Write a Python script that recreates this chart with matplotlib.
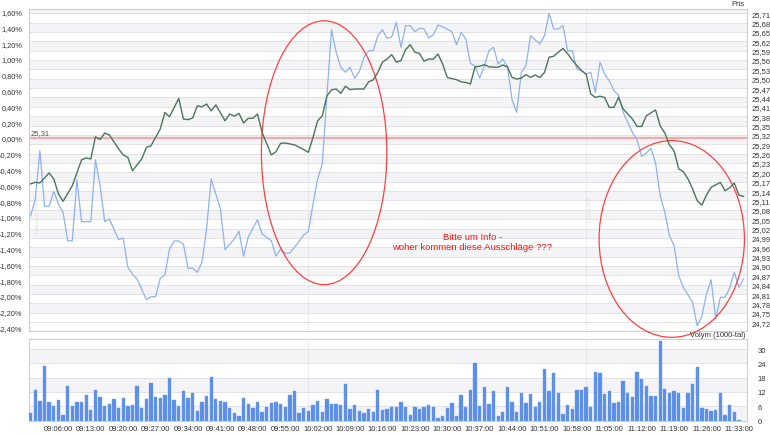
import matplotlib
matplotlib.use('Agg')
import matplotlib.pyplot as plt
from matplotlib.patches import Ellipse
from matplotlib.ticker import FuncFormatter, FixedLocator
import numpy as np

plt.rcParams['font.family'] = ['Liberation Sans Narrow', 'Liberation Sans', 'DejaVu Sans']
plt.rcParams['font.size'] = 5.5

ref_price = 25.31

# kurs (Pris), minutes after 09:00
price_min = [0, 1, 2, 4, 5, 6, 7, 9, 11, 12, 13, 14, 15, 16, 17, 19, 20, 21, 22, 24,
             25, 26, 27, 28, 29, 30, 32, 33, 34, 35, 36, 37, 38, 39, 40, 42, 43, 44, 45, 46,
             47, 48, 49, 50, 52, 53, 54, 55, 57, 59, 60, 61, 62, 63, 64, 65, 66, 67, 68, 69,
             70, 72, 73, 74, 75, 76, 77, 78, 79, 80, 81, 82, 83, 84, 85, 86, 87, 88, 89, 90,
             92, 93, 94, 95, 96, 97, 98, 99, 100, 101, 102, 103, 104, 105, 106, 107, 108, 109, 110, 111,
             112, 113, 114, 115, 116, 117, 118, 119, 120, 121, 122, 123, 124, 125, 126, 127, 128, 130, 131, 132,
             133, 135, 136, 137, 138, 139, 140, 141, 142, 143, 144, 145, 146, 147, 149, 150, 151, 152, 153, 154]
price = [25.163, 25.168, 25.166, 25.198, 25.179, 25.131, 25.107, 25.157, 25.240, 25.246, 25.243, 25.314, 25.305, 25.326, 25.320, 25.275, 25.256, 25.248, 25.205, 25.243,
         25.280, 25.285, 25.312, 25.339, 25.392, 25.378, 25.437, 25.371, 25.369, 25.374, 25.413, 25.410, 25.419, 25.397, 25.416, 25.365, 25.387, 25.380, 25.389, 25.358,
         25.373, 25.373, 25.387, 25.328, 25.256, 25.266, 25.293, 25.294, 25.288, 25.273, 25.264, 25.312, 25.365, 25.381, 25.445, 25.464, 25.467, 25.453, 25.476, 25.465,
         25.467, 25.467, 25.490, 25.496, 25.520, 25.553, 25.563, 25.577, 25.553, 25.558, 25.593, 25.609, 25.585, 25.581, 25.556, 25.563, 25.563, 25.579, 25.547, 25.504,
         25.497, 25.490, 25.488, 25.483, 25.538, 25.540, 25.545, 25.538, 25.537, 25.537, 25.544, 25.538, 25.504, 25.499, 25.502, 25.513, 25.504, 25.512, 25.504, 25.520,
         25.569, 25.572, 25.585, 25.597, 25.580, 25.560, 25.542, 25.526, 25.515, 25.451, 25.440, 25.444, 25.440, 25.408, 25.408, 25.440, 25.403, 25.371, 25.347, 25.347,
         25.381, 25.400, 25.349, 25.326, 25.288, 25.269, 25.211, 25.202, 25.179, 25.147, 25.109, 25.095, 25.127, 25.152, 25.168, 25.141, 25.150, 25.166, 25.127, 25.123]

# jamforelse (%), minutes after 09:00
index_min = [0, 1, 2, 3, 4, 5, 6, 7, 8, 9, 10, 11, 13, 14, 15, 16, 17, 19, 20, 21,
             22, 23, 25, 26, 27, 28, 29, 30, 31, 32, 33, 34, 35, 36, 37, 38, 39, 41, 42, 44,
             45, 46, 47, 49, 50, 52, 53, 54, 55, 56, 57, 59, 60, 61, 62, 63, 64, 65, 66, 67,
             68, 69, 70, 71, 72, 73, 74, 75, 76, 77, 78, 79, 80, 81, 82, 83, 84, 85, 86, 87,
             88, 89, 91, 92, 93, 94, 95, 96, 97, 98, 99, 100, 101, 102, 103, 104, 105, 106, 107, 108,
             109, 110, 111, 112, 113, 114, 115, 116, 117, 118, 119, 120, 121, 122, 123, 124, 125, 126, 127, 128,
             130, 131, 132, 133, 134, 135, 136, 137, 138, 139, 140, 141, 143, 144, 145, 146, 147, 148, 149, 150,
             151, 152, 153, 154]
index_pct = [-0.984, -0.772, -0.161, -0.865, -0.865, -0.675, -0.835, -0.941, -1.300, -1.300, -0.528, -1.059, -1.059, -0.278, -0.604, -1.059, -1.025, -1.287, -1.266, -1.637,
             -1.722, -1.785, -2.047, -2.009, -2.009, -1.776, -1.734, -1.405, -1.304, -1.304, -1.342, -1.649, -1.649, -1.700, -1.573, -1.152, -0.519, -0.899, -1.414, -1.278,
             -1.181, -1.497, -1.257, -1.034, -1.215, -1.300, -1.497, -1.405, -1.459, -1.456, -1.384, -1.228, -1.181, -0.835, -0.519, -0.329, 0.535, 1.371, 1.085, 0.895,
             0.832, 0.895, 0.756, 0.839, 1.022, 1.105, 1.105, 1.295, 1.371, 1.262, 1.280, 1.465, 1.148, 1.422, 1.422, 1.346, 1.389, 1.380, 1.266, 1.308,
             1.430, 1.409, 1.346, 1.181, 1.338, 1.253, 0.946, 0.908, 0.759, 0.908, 1.105, 1.148, 0.937, 1.000, 0.903, 0.481, 0.325, 0.832, 0.915, 1.295,
             1.241, 1.190, 1.295, 1.578, 1.380, 1.380, 1.422, 1.105, 1.105, 0.873, 0.852, 0.810, 0.832, 0.578, 0.958, 0.810, 0.725, 0.599, 0.544, 0.325,
             0.072, -0.025, -0.232, -0.190, -0.130, -0.316, -0.730, -0.941, -1.237, -1.363, -1.743, -1.890, -2.080, -2.376, -2.257, -1.975, -1.794, -2.291, -2.016, -2.016,
             -1.903, -1.700, -1.890, -1.785]

# Volym (1000-tal), one bar per minute from 09:00
volume = [3.3, 12.7, 8.1, 22.9, 7.8, 6.2, 8.5, 2.4, 14.4, 5.9,
          7.6, 7.9, 10.7, 4.5, 12.7, 10.0, 5.9, 6.9, 8.9, 5.1,
          9.6, 6.2, 6.6, 14.3, 5.4, 9.2, 15.7, 9.8, 9.6, 10.7,
          18.0, 8.8, 6.2, 12.3, 9.6, 11.5, 4.2, 7.8, 10.2, 18.1,
          9.2, 8.1, 7.9, 5.4, 3.1, 2.1, 9.3, 6.9, 5.1, 7.6,
          3.4, 5.5, 7.4, 7.9, 6.9, 5.8, 10.7, 12.3, 3.3, 5.2,
          3.8, 6.4, 8.1, 3.7, 8.9, 7.1, 7.1, 6.6, 15.3, 4.8,
          6.5, 4.2, 3.3, 5.0, 3.4, 13.0,
          4.4, 4.8, 5.8, 5.8, 7.8, 5.8, 2.4, 5.8, 5.0, 5.7,
          6.5, 5.8, 1.0, 1.8, 5.2, 7.2, 1.8, 10.7, 5.7, 12.6,
          24.2, 6.1, 14.0, 7.1, 12.2, 2.0, 3.5, 14.1, 7.9, 3.4,
          11.7, 7.2, 11.3, 5.8, 7.9, 21.8, 12.4, 19.8, 11.6, 2.7,
          6.5, 4.8, 13.0, 12.9, 14.1, 5.8, 20.4, 19.9, 11.0, 12.2,
          7.2, 7.8, 16.7, 11.7, 9.9, 20.2, 17.5, 14.4, 10.2, 10.2,
          33.2, 13.3, 11.6, 12.2, 11.7, 5.4, 11.7, 15.3, 22.6, 5.2,
          5.0, 3.8, 4.4, 11.7, 2.4, 6.5, 3.5, 0.3]

time_ticks = list(range(6, 154, 7))
pct_ticks = [-2.4, -2.2, -2.0, -1.8, -1.6, -1.4, -1.2, -1.0, -0.8, -0.6, -0.4, -0.2,
             0.0, 0.2, 0.4, 0.6, 0.8, 1.0, 1.2, 1.4, 1.6]
price_ticks = [round(24.72 + 0.03 * i, 2) for i in range(34)]
vol_ticks = [0, 6, 12, 18, 24, 30]

pct_lim = (-2.443, 1.633)
xlim = (-0.25, 154.65)

def pct2price(p):
    return ref_price * (1 + p / 100.0)

def price2pct(v):
    return (v / ref_price - 1) * 100.0

def fmt_time(m, pos=None):
    m = int(round(m))
    return '%02d:%02d:00' % (9 + m // 60, m % 60)

band = '#f4f4f6'
gridc = '#e3e3e6'
framec = '#cfcfd4'
txtc = '#333333'

fig = plt.figure(figsize=(7.7, 4.35), dpi=100)
ax = fig.add_axes([0.0383, 0.2368, 0.9312, 0.7402])
axv = fig.add_axes([0.0383, 0.031, 0.9312, 0.1874], sharex=ax)

# main chart
ax.set_xlim(*xlim)
ax.set_ylim(*pct_lim)
edges = [price2pct(t) for t in price_ticks] + [pct_lim[1]]
for i in range(len(edges) - 1):
    if i % 2 == 1:
        ax.axhspan(edges[i], edges[i + 1], color=band, lw=0, zorder=0)
for t in price_ticks:
    ax.axhline(price2pct(t), color=gridc, lw=0.7, zorder=0.5)
ax.axhline(0, color='#f3aaaa', lw=1.6, zorder=1)
for m in (60, 120):
    ax.axvline(m, color='#d6d6da', lw=0.6, ls=(0, (1, 1)), zorder=0.6)
    axv.axvline(m, color='#d6d6da', lw=0.6, ls=(0, (1, 1)), zorder=0.6)

ax.plot(index_min, index_pct, color='#8db2f2', lw=0.9, zorder=3)
ax.text(0.002, 0.03, '25,31', transform=ax.get_yaxis_transform(), fontsize=5.5,
        color='#555555', va='bottom', ha='left', zorder=4)

ax.yaxis.set_major_locator(FixedLocator(pct_ticks))
ax.yaxis.set_major_formatter(FuncFormatter(
    lambda v, p: ('%.2f%%' % v).replace('.', ',').replace('-0,00', '0,00')))
ax.tick_params(axis='y', length=0, pad=5, labelcolor=txtc, labelsize=5.3)
ax.tick_params(axis='x', length=0, labelbottom=False)
for s in ax.spines.values():
    s.set_color(framec)
    s.set_linewidth(0.8)

ax2 = ax.twinx()
ax2.set_ylim(pct2price(pct_lim[0]), pct2price(pct_lim[1]))
ax2.plot(price_min, price, color='#4a7659', lw=1.0, zorder=3)
ax2.yaxis.set_major_locator(FixedLocator(price_ticks))
ax2.yaxis.set_major_formatter(FuncFormatter(lambda v, p: ('%.2f' % v).replace('.', ',')))
ax2.tick_params(axis='y', length=0, pad=4, labelcolor=txtc)
for s in ax2.spines.values():
    s.set_visible(False)

# red marks
for cx, cy, w, h in [(63.4, -0.186, 27.1, 3.34), (138.5, -1.278, 31.4, 2.49)]:
    e = Ellipse((cx, cy), w, h, fill=False, edgecolor='#ff4040', lw=0.9,
                zorder=5, clip_on=False)
    ax.add_patch(e)
ax.text(95.4, -1.31, 'Bitte um Info -\nwoher kommen diese Ausschläge ???',
        color='#ff1010', fontsize=6.8, ha='center', va='center', linespacing=1.25,
        family=['Liberation Sans', 'DejaVu Sans'], zorder=6)

# faint watermarks
ax.text(0.9, -0.95, 'Danske Bank', rotation=90, fontsize=4.5, color='#e0e0e0',
        ha='left', va='center', zorder=2)
ax.text(60.4, -1.0, '10 AM', rotation=90, fontsize=4.5, color='#e0e0e0',
        ha='left', va='center', zorder=2)
ax.text(120.4, -0.9, '11:00 AM', rotation=90, fontsize=4.5, color='#e0e0e0',
        ha='left', va='center', zorder=2)

fig.text(745 / 770, 1 - 5 / 435, 'Pris', fontsize=5.5, color=txtc, ha='right', va='center')
fig.text(745 / 770, 1 - 336 / 435, 'Volym (1000-tal)', fontsize=5.5, color=txtc,
         ha='right', va='center')

# volume
axv.set_ylim(0, 34.2)
for i in range(len(vol_ticks)):
    hi = vol_ticks[i + 1] if i + 1 < len(vol_ticks) else 34.2
    if i % 2 == 0:
        axv.axhspan(vol_ticks[i], hi, color=band, lw=0, zorder=0)
for t in vol_ticks[1:]:
    axv.axhline(t, color=gridc, lw=0.7, zorder=0.5)
axv.bar(range(len(volume)), volume, width=0.72, color='#5b8ee9',
        edgecolor='#78a3ef', lw=0.3, zorder=3)
axv.yaxis.tick_right()
axv.yaxis.set_major_locator(FixedLocator(vol_ticks))
axv.tick_params(axis='y', length=0, pad=8, labelcolor=txtc)
axv.xaxis.set_major_locator(FixedLocator(time_ticks))
axv.xaxis.set_major_formatter(FuncFormatter(fmt_time))
axv.tick_params(axis='x', length=0, pad=3, labelcolor=txtc)
for s in axv.spines.values():
    s.set_color(framec)
    s.set_linewidth(0.8)

fig.savefig('out.png', dpi=100, facecolor='white')
